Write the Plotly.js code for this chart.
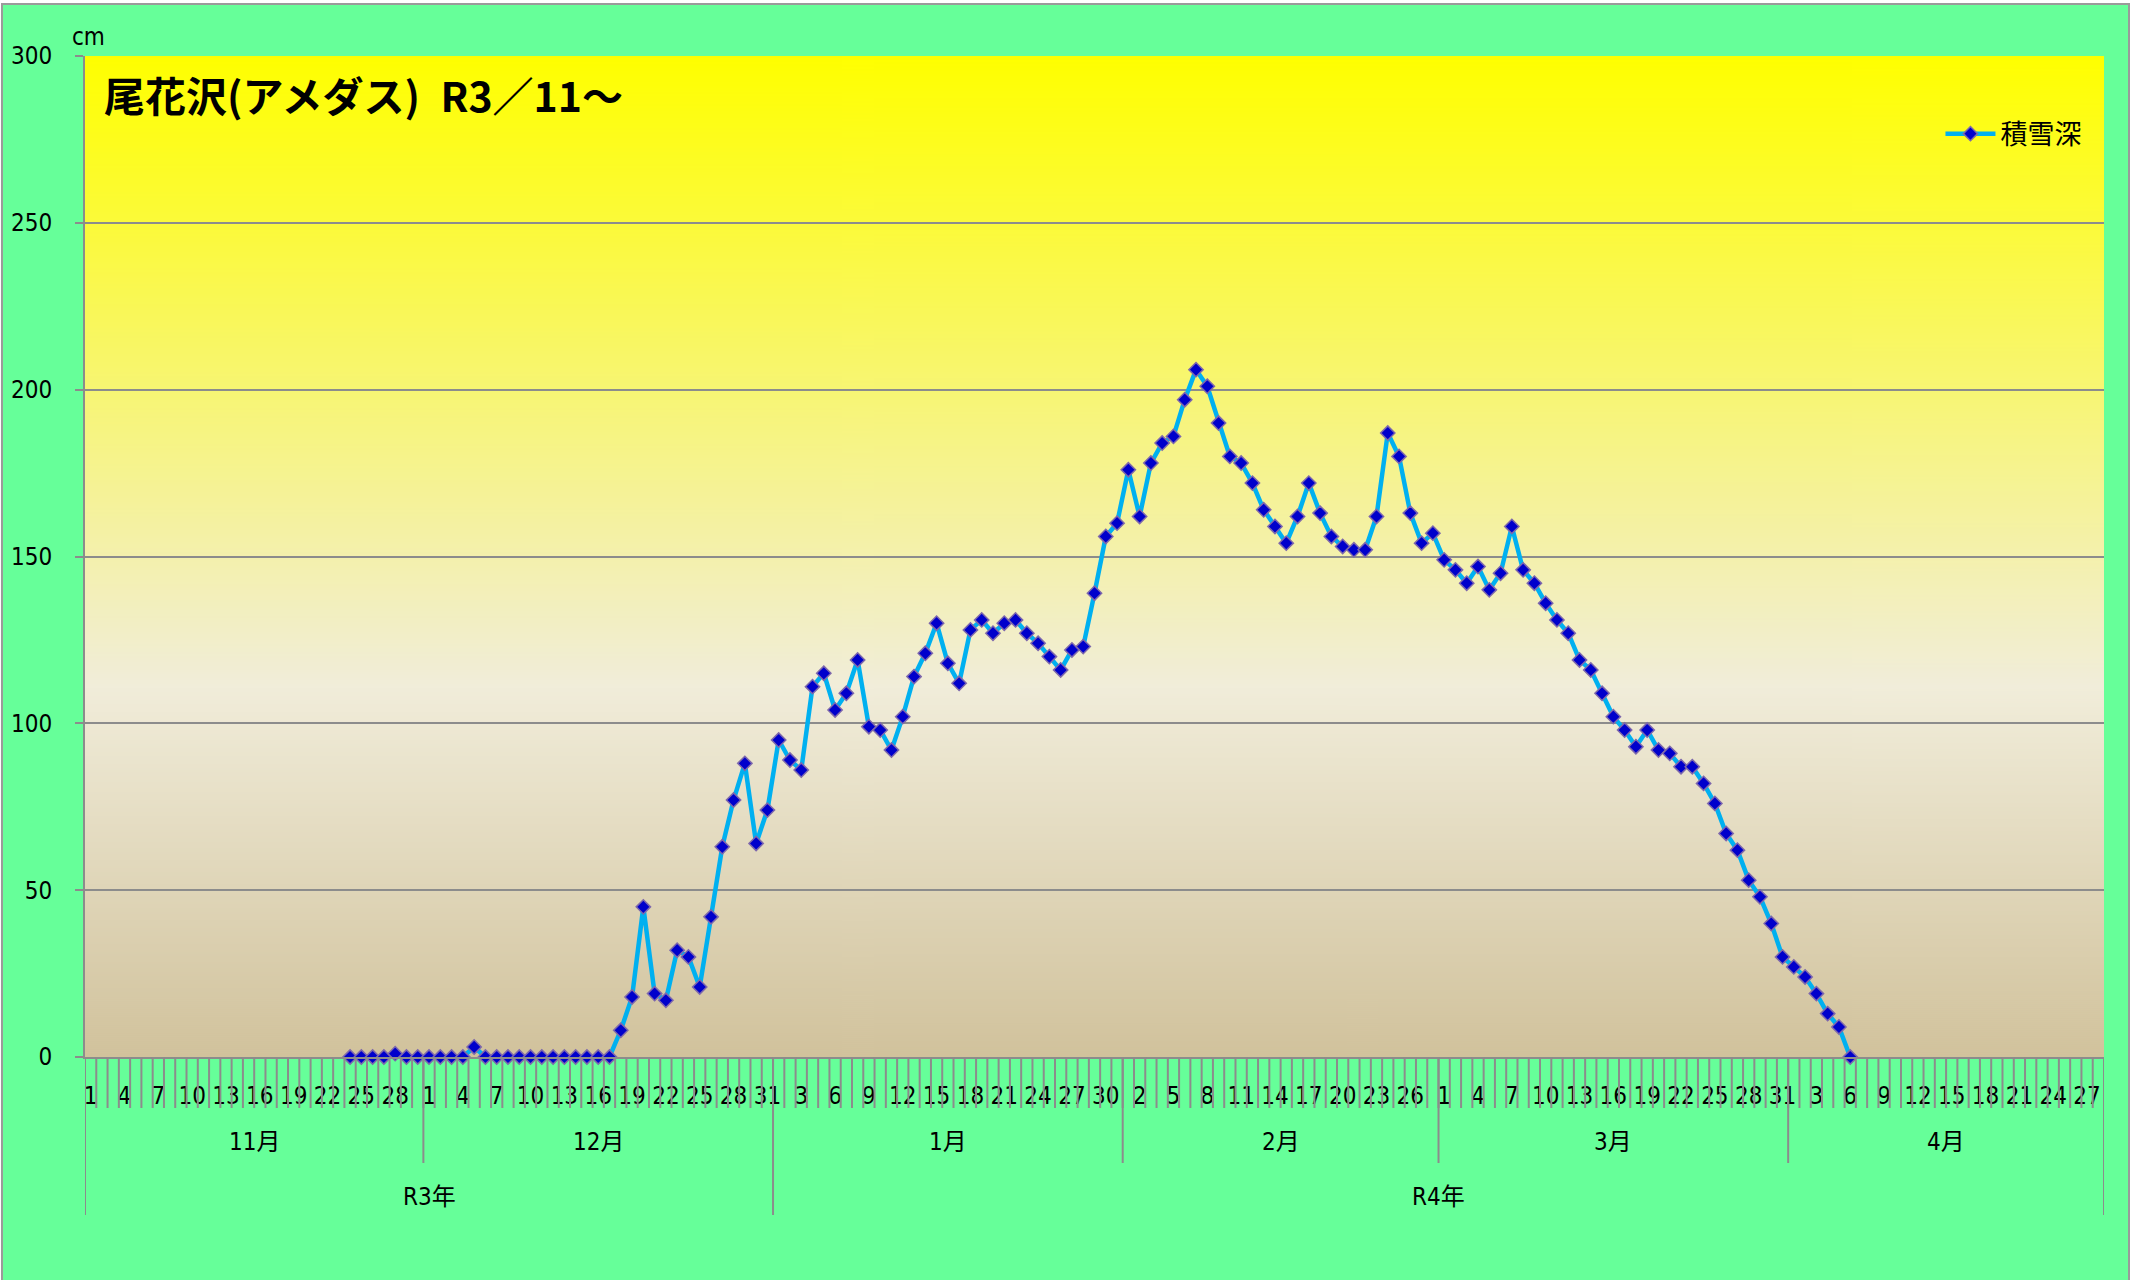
<!DOCTYPE html>
<html>
<head>
<meta charset="utf-8">
<script src="https://cdn.plot.ly/plotly-3.0.1.min.js"></script>
<style>
html,body{margin:0;padding:0;background:#ffffff;}
#chart{position:absolute;left:1px;top:3px;width:2125px;height:1275px;border:2px solid #9a9a9a;border-bottom:none;}
</style>
</head>
<body>
<div id="chart"></div>
<script>
// ---- data ----
const chartTitle = '尾花沢(アメダス)\u2002R3／11～';
const seriesName = '積雪深';
const yUnit = 'cm';
const monthLabels = ['11月', '12月', '1月', '2月', '3月', '4月'];
const monthLengths = [30, 31, 31, 28, 31, 28];
const yearLabels = ['R3年', 'R4年'];
const monthsPerYear = [2, 4];
const yTickVals = [0, 50, 100, 150, 200, 250, 300];

const snowNov = [null, null, null, null, null, null, null, null, null, null,
                 null, null, null, null, null, null, null, null, null, null,
                 null, null, null, 0, 0, 0, 0, 1, 0, 0];
const snowDec = [0, 0, 0, 0, 3, 0, 0, 0, 0, 0,
                 0, 0, 0, 0, 0, 0, 0, 8, 18, 45,
                 19, 17, 32, 30, 21, 42, 63, 77, 88, 64, 74];
const snowJan = [95, 89, 86, 111, 115, 104, 109, 119, 99, 98,
                 92, 102, 114, 121, 130, 118, 112, 128, 131, 127,
                 130, 131, 127, 124, 120, 116, 122, 123, 139, 156, 160];
const snowFeb = [176, 162, 178, 184, 186, 197, 206, 201, 190, 180,
                 178, 172, 164, 159, 154, 162, 172, 163, 156, 153,
                 152, 152, 162, 187, 180, 163, 154, 157];
const snowMar = [149, 146, 142, 147, 140, 145, 159, 146, 142, 136,
                 131, 127, 119, 116, 109, 102, 98, 93, 98, 92,
                 91, 87, 87, 82, 76, 67, 62, 53, 48, 40, 30];
const snowApr = [27, 24, 19, 13, 9, 0, null, null, null, null,
                 null, null, null, null, null, null, null, null, null, null,
                 null, null, null, null, null, null, null, null];

// ---- derived ----
const snow = [].concat(snowNov, snowDec, snowJan, snowFeb, snowMar, snowApr);
const dayNumbers = [];
const monthStart = [];
let acc = 0;
monthLengths.forEach(len => { monthStart.push(acc); for (let d = 1; d <= len; d++) dayNumbers.push(d); acc += len; });
const nDays = acc;
const xIdx = dayNumbers.map((_, i) => i);
const tickVals = xIdx.filter(i => i % 3 === 0);
const tickText = tickVals.map(i => String(dayNumbers[i]));

const plotH = 1001;
const pxBelow = px => -px / plotH;

const narrow = "'Liberation Sans Narrow', 'DejaVu Sans Condensed', 'Noto Sans CJK JP', sans-serif";
const cjk = "'Noto Sans CJK JP', sans-serif";
const grey = '#8c8c8c';

// gradient background image
const cv = document.createElement('canvas');
cv.width = 4; cv.height = 1000;
const ctx = cv.getContext('2d');
const grad = ctx.createLinearGradient(0, 0, 0, 1000);
grad.addColorStop(0, '#FFFF00');
grad.addColorStop(0.63, '#F1EDDA');
grad.addColorStop(1, '#D1C29C');
ctx.fillStyle = grad;
ctx.fillRect(0, 0, 4, 1000);

// shapes: day boundary ticks, month and year separators
const shapes = [];
for (let i = 0; i <= nDays; i++) {
  shapes.push({type: 'line', xref: 'x', yref: 'paper', x0: i - 0.5, x1: i - 0.5, y0: 0, y1: pxBelow(51),
               line: {color: grey, width: 2}, layer: 'above'});
}
const yearStartMonths = [0];
monthsPerYear.forEach((m, k) => yearStartMonths.push(yearStartMonths[k] + m));
const boundaries = monthStart.concat([nDays]);
boundaries.forEach((b, k) => {
  const isYear = yearStartMonths.indexOf(k) >= 0;
  shapes.push({type: 'line', xref: 'x', yref: 'paper', x0: b - 0.5, x1: b - 0.5, y0: 0,
               y1: pxBelow(isYear ? 158 : 106), line: {color: grey, width: 2}, layer: 'above'});
});

const annotations = [];
monthLabels.forEach((m, k) => {
  annotations.push({xref: 'x', yref: 'paper', x: monthStart[k] + monthLengths[k] / 2 - 0.5, y: pxBelow(85),
                    text: m, showarrow: false, xanchor: 'center', yanchor: 'middle',
                    font: {family: narrow, size: 24, color: '#000'}});
});
yearLabels.forEach((yl, k) => {
  const s = boundaries[yearStartMonths[k]], e = boundaries[yearStartMonths[k + 1]];
  annotations.push({xref: 'x', yref: 'paper', x: (s + e) / 2 - 0.5, y: pxBelow(140),
                    text: yl, showarrow: false, xanchor: 'center', yanchor: 'middle',
                    font: {family: narrow, size: 24, color: '#000'}});
});
annotations.push({xref: 'paper', yref: 'paper', x: -0.0075, y: 1.019, text: yUnit, showarrow: false,
                  xanchor: 'left', yanchor: 'middle', font: {family: narrow, size: 24, color: '#000'}});
annotations.push({xref: 'paper', yref: 'paper', x: 0.0085, y: 0.962, text: '<b>' + chartTitle + '</b>', showarrow: false,
                  xanchor: 'left', yanchor: 'middle', font: {family: cjk, size: 41, color: '#000'}});

const trace = {
  x: xIdx, y: snow, type: 'scatter', mode: 'lines+markers', name: seriesName,
  connectgaps: false, cliponaxis: false,
  line: {color: '#00B0F0', width: 4.5},
  marker: {symbol: 'diamond', size: 11, color: '#0000CC', line: {color: '#7E68AC', width: 1.5}}
};

const layout = {
  width: 2125, height: 1275,
  margin: {l: 82, r: 24, t: 51, b: 223},
  paper_bgcolor: '#66FF99', plot_bgcolor: 'rgba(0,0,0,0)',
  showlegend: true,
  legend: {x: 0.919, y: 0.922, xanchor: 'left', yanchor: 'middle', bgcolor: 'rgba(0,0,0,0)',
           itemwidth: 50, font: {family: cjk, size: 27, color: '#000'}},
  xaxis: {range: [-0.5, nDays - 0.5], tickmode: 'array', tickvals: tickVals, ticktext: tickText,
          ticks: '', ticklabelstandoff: 16, showgrid: false, zeroline: false,
          showline: true, linecolor: grey, linewidth: 2, tickangle: 0,
          tickfont: {family: narrow, size: 24, color: '#000'}},
  yaxis: {range: [0, 300], tickmode: 'array', tickvals: yTickVals, ticks: 'outside', ticklen: 8,
          tickcolor: grey, tickwidth: 2, ticklabelstandoff: 18,
          showgrid: true, gridcolor: grey, gridwidth: 2, zeroline: false,
          showline: true, linecolor: grey, linewidth: 2,
          tickfont: {family: narrow, size: 24, color: '#000'}},
  images: [{source: cv.toDataURL(), xref: 'paper', yref: 'paper', x: 0, y: 1, sizex: 1, sizey: 1,
            sizing: 'stretch', layer: 'below', xanchor: 'left', yanchor: 'top'}],
  shapes: shapes,
  annotations: annotations
};

Plotly.newPlot('chart', [trace], layout, {displayModeBar: false, staticPlot: true});
</script>
</body>
</html>
